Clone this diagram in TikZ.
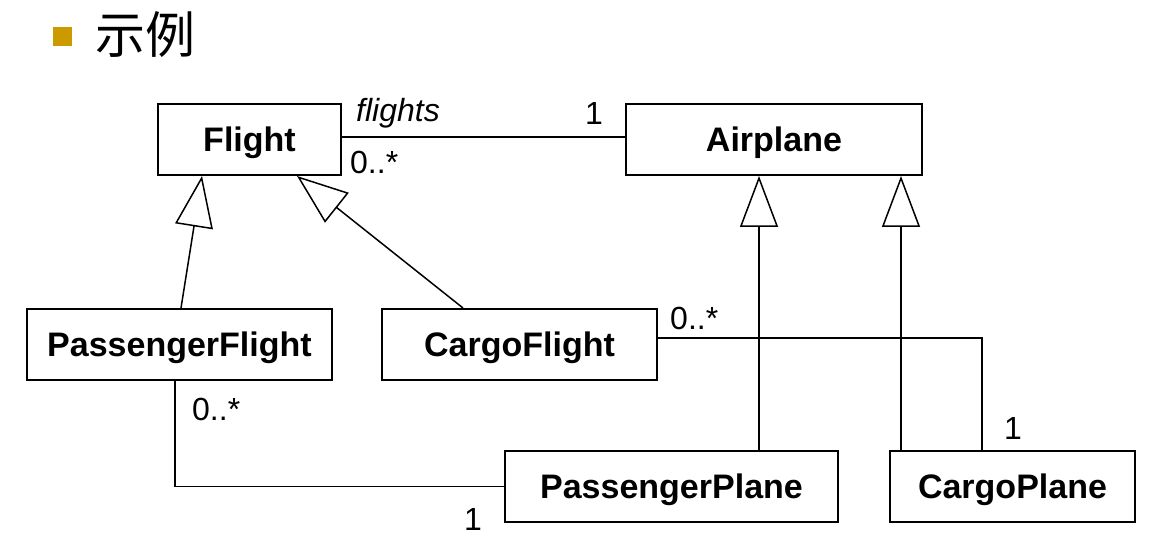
\documentclass[tikz,border=0pt]{standalone}
\usepackage{fontspec}
\setmainfont{Liberation Sans}
\newfontfamily\cjk{Noto Sans CJK SC}
\usetikzlibrary{arrows.meta,calc}
\definecolor{bulletgold}{RGB}{204,153,0}
\begin{document}
\begin{tikzpicture}[x=1pt,y=-1pt,
  cls/.style={draw,line width=2pt,inner sep=0pt,text depth=0pt,font=\fontsize{34}{37}\selectfont\bfseries},
  lbl/.style={inner sep=0pt,font=\fontsize{32}{35}\selectfont},
  conn/.style={line width=1.5pt},
  gen/.style={line width=1.5pt,-{Triangle[open,length=51pt,width=38pt,line width=1.5pt]}}]
\useasboundingbox (0,0) rectangle (1159,548);
\fill[white] (0,0) rectangle (1159,548);
% title
\fill[bulletgold] (53,27) rectangle (72,46);
\node[inner sep=0pt,font=\cjk\fontsize{50}{55}\selectfont] (title) at (145,35) {示例};
% classes
\node[cls,minimum width=183pt,minimum height=71pt] (Flight) at (249.5,139.5) {Flight};
\node[cls,minimum width=296pt,minimum height=71pt] (Airplane) at (774,139.5) {Airplane};
\node[cls,minimum width=305pt,minimum height=71pt] (PF) at (179.5,344.5) {PassengerFlight};
\node[cls,minimum width=275pt,minimum height=71pt] (CF) at (519.5,344.5) {CargoFlight};
\node[cls,minimum width=333pt,minimum height=71pt] (PP) at (671.5,486.5) {PassengerPlane};
\node[cls,minimum width=245pt,minimum height=71pt] (CP) at (1012.5,486.5) {CargoPlane};
% association Flight - Airplane
\draw[conn] ([yshift=2.5pt]Flight.east) -- ([yshift=2.5pt]Airplane.west);
\node[lbl,anchor=base,font=\fontsize{32}{35}\selectfont\itshape] (lflights) at (398,122) {flights};
\node[lbl,anchor=base] (l1a) at (594,125) {1};
\node[lbl,anchor=base west] (l0a) at (350,174) {0..*};
% generalizations
\draw[gen] ($(PF.north)+(1.5,0)$) -- ($(Flight.south)+(-47.5,0)$);
\draw[gen] ($(CF.north)+(-56.5,0)$) -- ($(Flight.south)+(47.5,0)$);
\draw[gen] ($(PP.north)+(87.5,0)$) -- ($(Airplane.south)+(-15,0)$);
\draw[gen] ($(CP.north)+(-111.5,0)$) -- ($(Airplane.south)+(127,0)$);
% association CargoFlight - CargoPlane
\coordinate (cfbend) at (982,338);
\draw[conn] ([yshift=6.5pt]CF.east) -- (cfbend) -- ($(CP.north)+(-30.5,0)$);
\node[lbl,anchor=base west] (l0b) at (670,329) {0..*};
\node[lbl,anchor=base] (l1b) at (1013,439) {1};
% association PassengerFlight - PassengerPlane
\draw[conn] ($(PF.south)+(-4.5,0)$) |- (PP.west);
\node[lbl,anchor=base west] (l0c) at (192,420) {0..*};
\node[lbl,anchor=base] (l1c) at (473,530) {1};
\end{tikzpicture}
\end{document}
